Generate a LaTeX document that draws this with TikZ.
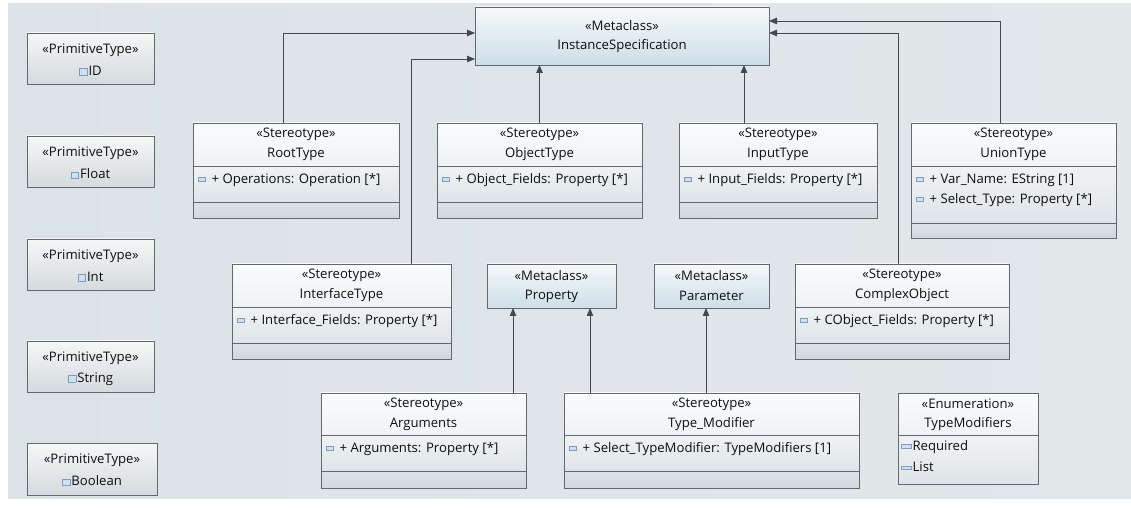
\documentclass[tikz,border=0pt]{standalone}
\usepackage{fontspec}
\setmainfont{Open Sans}
\usetikzlibrary{arrows.meta,calc}
\definecolor{bgl}{HTML}{DCE3E7}
\definecolor{bgr}{HTML}{E2E7EA}
\definecolor{edge}{HTML}{62686C}
\definecolor{linec}{HTML}{45494D}
\definecolor{hdtop}{HTML}{FAFBFC}
\definecolor{hdbot}{HTML}{E2E8EB}
\definecolor{attop}{HTML}{F0F3F5}
\definecolor{atbot}{HTML}{DEE4E7}
\definecolor{optop}{HTML}{DCE2E5}
\definecolor{opbot}{HTML}{D2D9DD}
\definecolor{mttop}{HTML}{F6F9FA}
\definecolor{mtbot}{HTML}{CDDEE8}
\definecolor{prtop}{HTML}{F6F7F7}
\definecolor{prbot}{HTML}{D4DADD}
\definecolor{iconedge}{HTML}{7F9CC0}
\definecolor{iconfill}{HTML}{CFE0F2}
\definecolor{txtc}{HTML}{0E0E0E}
\newcommand\aicon{\raisebox{2.5bp}{\setlength\fboxsep{0pt}\setlength\fboxrule{0.7bp}\fcolorbox{iconedge}{iconfill}{\rule{0pt}{3.5bp}\rule{6bp}{0pt}}}}
\newcommand\picon{\raisebox{0.5bp}{\setlength\fboxsep{0pt}\setlength\fboxrule{0.7bp}\fcolorbox{iconedge}{iconfill}{\rule{0pt}{6bp}\rule{7bp}{0pt}}}}
\newcommand\eicon{\raisebox{2.5bp}{\setlength\fboxsep{0pt}\setlength\fboxrule{0.7bp}\fcolorbox{iconedge}{iconfill}{\rule{0pt}{3bp}\rule{9bp}{0pt}}}}
\newcommand\ubox[6]{\node[box,#6,minimum width=#4bp,minimum height=#5bp] (#1) at (#2,#3) {};}
\newcommand\compt[4]{%
  \shade[#4] ($(#1.north west)+(0,#2)$) rectangle ($(#1.north east)+(0,#3)$);
  \draw[edgeline] ($(#1.north west)+(0,#2)$) -- ($(#1.north east)+(0,#2)$);}
\newcommand\frameit[1]{\draw[edgeline] (#1.north west) rectangle (#1.south east);}
\newcommand\hdr[4]{%
  \node[txt] (#1s) at ($(#1.north)+(0,#4/2-10)$) {«#2»};
  \node[txt] (#1n) at ($(#1.north)+(0,#4/2+10)$) {#3};}
\newcommand\attr[4]{\node[txt,anchor=west] (#1) at ($(#2.north west)+(5,#3)$) {\aicon\hspace{6bp}#4};}
\begin{document}
\begin{tikzpicture}[x=1bp,y=-1bp,
  font=\fontsize{13.2}{15}\selectfont,
  box/.style={draw=edge,line width=0.8bp,inner sep=0pt,outer sep=0pt,anchor=north west,top color=hdtop,bottom color=hdbot},
  meta/.style={top color=mttop,bottom color=mtbot},
  prim/.style={top color=prtop,bottom color=prbot},
  atsh/.style={top color=attop,bottom color=atbot},
  opsh/.style={top color=optop,bottom color=opbot},
  edgeline/.style={draw=edge,line width=0.8bp},
  txt/.style={inner sep=0pt,text=txtc},
  arr/.style={draw=linec,line width=0.8bp,-{Triangle[length=8bp,width=6.5bp]}}]
\useasboundingbox (0,0) rectangle (1131,508);
\fill[white] (0,0) rectangle (1131,508);
\shade[left color=bgl,right color=bgr] (8,4) rectangle (1131,498);

% primitive types
\ubox{id}{27}{33}{127}{51}{prim}
\ubox{fl}{27}{136}{127}{51}{prim}
\ubox{int}{27}{239}{127}{51}{prim}
\ubox{str}{27}{341}{127}{51}{prim}
\ubox{bool}{27}{443}{130}{52}{prim}
\foreach \n/\t in {id/ID,fl/Float,int/Int,str/String,bool/Boolean}{
  \node[txt] (\n s) at ($(\n.north)+(0,17)$) {«PrimitiveType»};
  \node[txt] (\n n) at ($(\n.north)+(0,38)$) {\picon\hspace{1bp}\t};
}

% metaclasses
\ubox{is}{475}{7}{294}{58}{meta}
\hdr{is}{Metaclass}{InstanceSpecification}{58}
\ubox{prop}{487}{264}{129}{44}{meta}
\hdr{prop}{Metaclass}{Property}{44}
\ubox{par}{654}{264}{115}{44}{meta}
\hdr{par}{Metaclass}{Parameter}{44}

% stereotypes
\ubox{rt}{193}{123}{206}{95}{}
\compt{rt}{43}{79}{atsh}\compt{rt}{79}{95}{opsh}\frameit{rt}
\hdr{rt}{Stereotype}{RootType}{43}
\attr{rta}{rt}{57}{+ Operations: Operation [*]}

\ubox{ot}{437}{123}{205}{95}{}
\compt{ot}{43}{79}{atsh}\compt{ot}{79}{95}{opsh}\frameit{ot}
\hdr{ot}{Stereotype}{ObjectType}{43}
\attr{ota}{ot}{57}{+ Object\_Fields: Property [*]}

\ubox{it}{679}{123}{198}{95}{}
\compt{it}{43}{79}{atsh}\compt{it}{79}{95}{opsh}\frameit{it}
\hdr{it}{Stereotype}{InputType}{43}
\attr{ita}{it}{57}{+ Input\_Fields: Property [*]}

\ubox{ut}{911}{123}{205}{115}{}
\compt{ut}{43}{100}{atsh}\compt{ut}{100}{115}{opsh}\frameit{ut}
\hdr{ut}{Stereotype}{UnionType}{43}
\attr{uta}{ut}{57}{+ Var\_Name: EString [1]}
\attr{utb}{ut}{77}{+ Select\_Type: Property [*]}

\ubox{ift}{232}{264}{219}{95}{}
\compt{ift}{43}{79}{atsh}\compt{ift}{79}{95}{opsh}\frameit{ift}
\hdr{ift}{Stereotype}{InterfaceType}{43}
\attr{ifta}{ift}{57}{+ Interface\_Fields: Property [*]}

\ubox{co}{795}{264}{214}{95}{}
\compt{co}{43}{79}{atsh}\compt{co}{79}{95}{opsh}\frameit{co}
\hdr{co}{Stereotype}{ComplexObject}{43}
\attr{coa}{co}{57}{+ CObject\_Fields: Property [*]}

\ubox{arg}{321}{393}{205}{95}{}
\compt{arg}{42}{78}{atsh}\compt{arg}{78}{95}{opsh}\frameit{arg}
\hdr{arg}{Stereotype}{Arguments}{42}
\attr{arga}{arg}{56}{+ Arguments: Property [*]}

\ubox{tm}{564}{393}{295}{95}{}
\compt{tm}{42}{78}{atsh}\compt{tm}{78}{95}{opsh}\frameit{tm}
\hdr{tm}{Stereotype}{Type\_Modifier}{42}
\attr{tma}{tm}{56}{+ Select\_TypeModifier: TypeModifiers [1]}

% enumeration
\ubox{enm}{898}{393}{140}{91}{}
\compt{enm}{42}{91}{atsh}\frameit{enm}
\hdr{enm}{Enumeration}{TypeModifiers}{42}
\node[txt,anchor=west] (enr) at ($(enm.north west)+(3,54)$) {\eicon\hspace{1bp}Required};
\node[txt,anchor=west] (enl) at ($(enm.north west)+(3,74)$) {\eicon\hspace{1bp}List};

% generalizations
\coordinate (rtc) at ($(rt.north west)+(90,0)$);
\coordinate (iftc) at ($(ift.north west)+(179,0)$);
\coordinate (itc) at ($(it.north west)+(65,0)$);
\coordinate (utc) at ($(ut.north west)+(89,0)$);
\coordinate (coc) at ($(co.north west)+(103,0)$);
\coordinate (argc) at ($(arg.north west)+(192,0)$);
\coordinate (tmc1) at ($(tm.north west)+(26,0)$);
\coordinate (tmc2) at ($(tm.north west)+(142,0)$);
\coordinate (isl1) at ($(is.north west)+(0,26)$);
\coordinate (isl2) at ($(is.north west)+(0,52)$);
\coordinate (isr1) at ($(is.north east)+(0,14)$);
\coordinate (isr2) at ($(is.north east)+(0,26)$);
\draw[arr] (rtc) |- (isl1);
\draw[arr] (iftc) |- (isl2);
\draw[arr] (ot.north) -- (ot.north |- is.south);
\draw[arr] (itc) -- (itc |- is.south);
\draw[arr] (utc) |- (isr1);
\draw[arr] (coc) |- (isr2);
\draw[arr] (argc) -- (argc |- prop.south);
\draw[arr] (tmc1) -- (tmc1 |- prop.south);
\draw[arr] (tmc2) -- (tmc2 |- par.south);
\end{tikzpicture}
\end{document}
